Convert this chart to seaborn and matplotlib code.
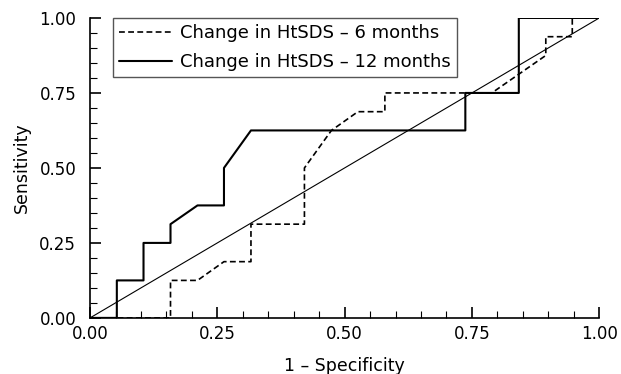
import matplotlib
matplotlib.use("Agg")
import matplotlib.pyplot as plt
import seaborn as sns
import pandas as pd
from matplotlib.ticker import MultipleLocator, FormatStrFormatter

# Data
fpr_6m = [0.0, 0.158, 0.158, 0.211, 0.263, 0.316, 0.316, 0.421, 0.421, 0.474, 0.526, 0.579, 0.579, 0.789, 0.895, 0.895, 0.947, 0.947, 1.0]
tpr_6m = [0.0, 0.0, 0.125, 0.125, 0.1875, 0.1875, 0.3125, 0.3125, 0.5, 0.625, 0.6875, 0.6875, 0.75, 0.75, 0.875, 0.9375, 0.9375, 1.0, 1.0]

fpr_12m = [0.0, 0.0526, 0.0526, 0.105, 0.105, 0.158, 0.158, 0.211, 0.263, 0.263, 0.316, 0.737, 0.737, 0.842, 0.842, 1.0]
tpr_12m = [0.0, 0.0, 0.125, 0.125, 0.25, 0.25, 0.3125, 0.375, 0.375, 0.5, 0.625, 0.625, 0.75, 0.75, 1.0, 1.0]

diag_x = [0.0, 1.0]
diag_y = [0.0, 1.0]

labels = ["Change in HtSDS – 6 months", "Change in HtSDS – 12 months"]

sns.set_theme(style="white")
plt.rcParams['font.family'] = ['DejaVu Sans']
plt.rcParams['text.color'] = 'black'
plt.rcParams['axes.labelcolor'] = 'black'

fig = plt.figure(figsize=(6.21, 3.74), dpi=100)
ax = fig.add_axes([0.145, 0.150, 0.820, 0.802])

df6 = pd.DataFrame({"x": fpr_6m, "y": tpr_6m})
df12 = pd.DataFrame({"x": fpr_12m, "y": tpr_12m})
dfd = pd.DataFrame({"x": diag_x, "y": diag_y})

sns.lineplot(data=df6, x="x", y="y", sort=False, estimator=None, ax=ax,
             color="black", linewidth=1.2, linestyle=(0, (3.5, 2)), label=labels[0])
sns.lineplot(data=df12, x="x", y="y", sort=False, estimator=None, ax=ax,
             color="black", linewidth=1.5, label=labels[1])
sns.lineplot(data=dfd, x="x", y="y", sort=False, estimator=None, ax=ax,
             color="black", linewidth=0.8)

ax.set_xlim(0, 1)
ax.set_ylim(0, 1)
ax.xaxis.set_major_locator(MultipleLocator(0.25))
ax.xaxis.set_minor_locator(MultipleLocator(0.05))
ax.yaxis.set_major_locator(MultipleLocator(0.25))
ax.yaxis.set_minor_locator(MultipleLocator(0.05))
ax.xaxis.set_major_formatter(FormatStrFormatter("%.2f"))
ax.yaxis.set_major_formatter(FormatStrFormatter("%.2f"))
ax.tick_params(axis="both", which="major", direction="in", length=8, width=1.2,
               labelsize=12, colors="black", bottom=True, left=True)
ax.tick_params(axis="x", which="major", pad=5)
ax.tick_params(axis="y", which="major", pad=10)
ax.tick_params(axis="both", which="minor", direction="in", length=5, width=0.8,
               colors="black", bottom=True, left=True)

for s in ["top", "right"]:
    ax.spines[s].set_visible(False)
for s in ["left", "bottom"]:
    ax.spines[s].set_color("black")
    ax.spines[s].set_linewidth(1.2)

ax.set_xlabel("1 – Specificity", fontsize=12.5, color="black", labelpad=10)
ax.set_ylabel("Sensitivity", fontsize=12.5, color="black", labelpad=6)

leg = ax.legend(loc="upper left", bbox_to_anchor=(0.045, 1.0), fontsize=13,
                frameon=True, fancybox=False, handlelength=2.9, handletextpad=0.45,
                borderpad=0.35, labelspacing=0.6, borderaxespad=0.0)
leg.get_frame().set_edgecolor("#555555")
leg.get_frame().set_linewidth(1.0)
leg.get_frame().set_facecolor("white")
leg.get_frame().set_alpha(1.0)
for t in leg.get_texts():
    t.set_color("black")

fig.savefig("out.png", dpi=100)
